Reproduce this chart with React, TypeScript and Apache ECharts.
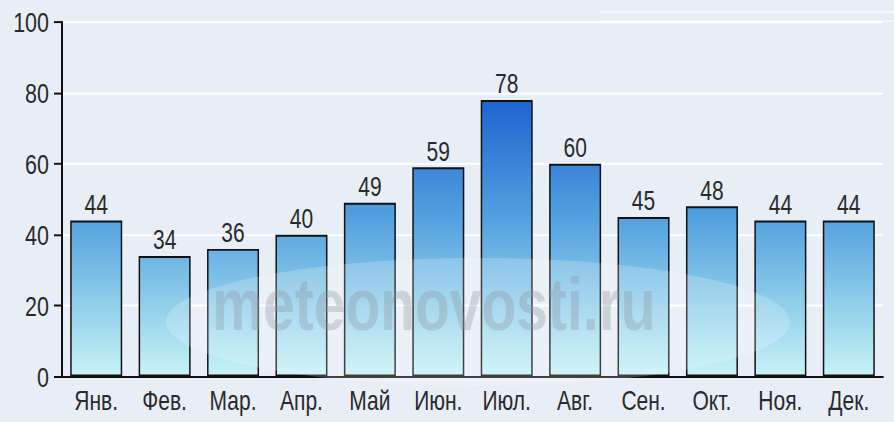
import React, { useEffect, useRef } from "react";
import * as echarts from "echarts";

const months = ["Янв.", "Фев.", "Мар.", "Апр.", "Май", "Июн.", "Июл.", "Авг.", "Сен.", "Окт.", "Ноя.", "Дек."];
const precipitation = [44, 34, 36, 40, 49, 59, 78, 60, 45, 48, 44, 44];
const yTicks = [0, 20, 40, 60, 80, 100];

const FONT = "'Liberation Sans', Arial, sans-serif";
const S = 1.3; // vertical stretch of the reference picture
const W = 894;
const H = 422 / S;
const sy = (y: number) => y / S;

export default function App() {
  const ref = useRef<HTMLDivElement>(null);
  useEffect(() => {
    const chart = echarts.init(ref.current!, null, { renderer: "svg" });
    chart.setOption({
      animation: false,
      backgroundColor: "#e8eef6",
      grid: { left: 62, right: 11, top: sy(22), bottom: sy(46), containLabel: false },
      xAxis: {
        type: "category",
        data: months,
        axisLine: { lineStyle: { color: "#111", width: 1.6 } },
        axisTick: { alignWithLabel: true, length: sy(7), lineStyle: { color: "#111", width: 2 } },
        axisLabel: { color: "#2a2a2a", fontSize: 21, fontFamily: FONT, margin: 8 },
      },
      yAxis: {
        type: "value",
        min: yTicks[0],
        max: yTicks[yTicks.length - 1],
        interval: 20,
        axisLine: { show: true, lineStyle: { color: "#111", width: 2 } },
        axisTick: { show: true, length: 8, lineStyle: { color: "#111", width: 1.5 } },
        axisLabel: { color: "#2a2a2a", fontSize: 21.5, fontFamily: FONT, margin: 13 },
        splitLine: { show: true, lineStyle: { color: "#ffffff", width: 1.6 } },
      },
      series: [
        {
          type: "bar",
          data: precipitation,
          barCategoryGap: "24%",
          itemStyle: {
            borderColor: "#111",
            borderWidth: 1.5,
            color: new echarts.graphic.LinearGradient(0, sy(22), 0, sy(376), [
              { offset: 0, color: "#0a4cc8" },
              { offset: 0.22, color: "#1d64d1" },
              { offset: 0.4, color: "#3a84d8" },
              { offset: 0.55, color: "#52a0df" },
              { offset: 0.78, color: "#8ccbea" },
              { offset: 1, color: "#c6f3f6" },
            ], true),
          },
          label: {
            show: true,
            position: "top",
            distance: 2,
            color: "#2a2a2a",
            fontSize: 21,
            fontFamily: FONT,
          },
        },
      ],
      graphic: [
        {
          type: "line",
          shape: { x1: 600, y1: sy(12), x2: 894, y2: sy(12) },
          style: { stroke: "rgba(255,255,255,0.8)", lineWidth: 1.2 },
          silent: true,
        },
        {
          type: "line",
          shape: { x1: 600, y1: sy(21), x2: 894, y2: sy(21) },
          style: { stroke: "rgba(255,255,255,0.6)", lineWidth: 1.2 },
          silent: true,
        },
        {
          type: "ellipse",
          shape: { cx: 478, cy: sy(322), rx: 312, ry: sy(64) },
          style: { fill: "rgba(255,255,255,0.2)" },
          z: 100,
          silent: true,
        },
        {
          type: "text",
          x: 434,
          y: sy(341),
          z: 101,
          silent: true,
          style: {
            text: "meteonovosti.ru",
            fontSize: 57,
            fontWeight: 900,
            fontFamily: FONT,
            fill: "rgba(140,150,162,0.34)",
            textAlign: "center",
            textVerticalAlign: "bottom",
          },
        },
      ],
    });
    return () => chart.dispose();
  }, []);
  return (
    <div
      ref={ref}
      style={{
        width: W,
        height: H,
        position: "absolute",
        left: 0,
        top: 0,
        transform: `scaleY(${S})`,
        transformOrigin: "0 0",
      }}
    />
  );
}
